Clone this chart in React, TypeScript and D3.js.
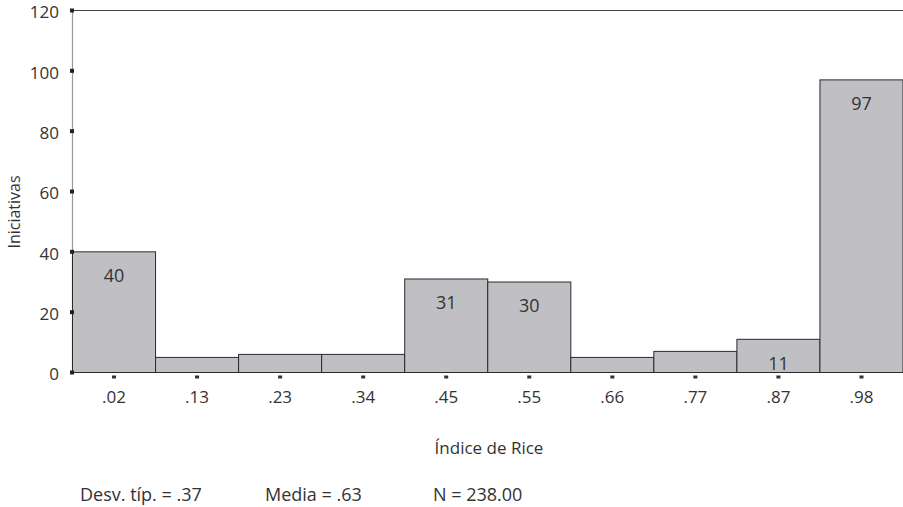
import React from "react";
import * as d3 from "d3";

const categories = [".02", ".13", ".23", ".34", ".45", ".55", ".66", ".77", ".87", ".98"];
const counts = [40, 5, 6, 6, 31, 30, 5, 7, 11, 97];
const yTicks = [0, 20, 40, 60, 80, 100, 120];
const labeled = [true, false, false, false, true, true, false, false, true, true];
const stats = ["Desv. típ. = .37", "Media = .63", "N = 238.00"];

export default function App() {
  const W = 903, H = 507;
  const left = 72.5, right = 903, top = 10.5, bottom = 372.5;
  const x = d3.scaleBand<string>().domain(categories).range([left, right]).padding(0);
  const y = d3.scaleLinear().domain([0, 120]).range([bottom, top]);
  const font = "'Open Sans', 'Liberation Sans', Arial, sans-serif";
  const statX = [80, 265, 433];
  const col = "#333";
  return (
    <svg width={W} height={H} style={{ position: "absolute", left: 0, top: 0, background: "#fff" }}>
      <line x1={left} x2={right} y1={top} y2={top} stroke="#444" strokeWidth={1.2} />
      <line x1={left} x2={left} y1={top} y2={bottom} stroke="#999" strokeWidth={1.2} />
      {categories.map((c, i) => (
        <rect key={c} x={x(c)!} y={y(counts[i])} width={x.bandwidth()} height={bottom - y(counts[i])}
          fill="#c0c0c4" stroke="#2a2a2a" strokeWidth={1} />
      ))}
      <line x1={left} x2={right} y1={bottom} y2={bottom} stroke="#2a2a2a" strokeWidth={1.2} />
      {yTicks.map((t) => (
        <g key={t}>
          <rect x={left - 2.5} y={y(t) - 2} width={4} height={4} fill="#222" />
          <text x={59} y={y(t) + 2} dy="0.35em" textAnchor="end" fontFamily={font} fontSize={17} fill={col}>{t}</text>
        </g>
      ))}
      {categories.map((c) => (
        <g key={"t" + c}>
          <rect x={x(c)! + x.bandwidth() / 2 - 2} y={bottom + 3} width={4} height={3} fill="#333" />
          <text x={x(c)! + x.bandwidth() / 2} y={397} dy="0.35em" textAnchor="middle" fontFamily={font} fontSize={17} fill={col}>{c}</text>
        </g>
      ))}
      {categories.map((c, i) => labeled[i] ? (
        <text key={"l" + c} x={x(c)! + x.bandwidth() / 2} y={y(counts[i]) + 24} dy="0.35em" textAnchor="middle"
          fontFamily={font} fontSize={18} fill={col}>{counts[i]}</text>
      ) : null)}
      <text transform={`translate(14,212) rotate(-90)`} textAnchor="middle" dy="0.35em"
        fontFamily={font} fontSize={16} fill={col}>Iniciativas</text>
      <text x={489} y={448} dy="0.35em" textAnchor="middle" fontFamily={font} fontSize={17} fill={col}>Índice de Rice</text>
      {stats.map((s, i) => (
        <text key={s} x={statX[i]} y={495} dy="0.35em" fontFamily={font} fontSize={18} fill={col}>{s}</text>
      ))}
    </svg>
  );
}
